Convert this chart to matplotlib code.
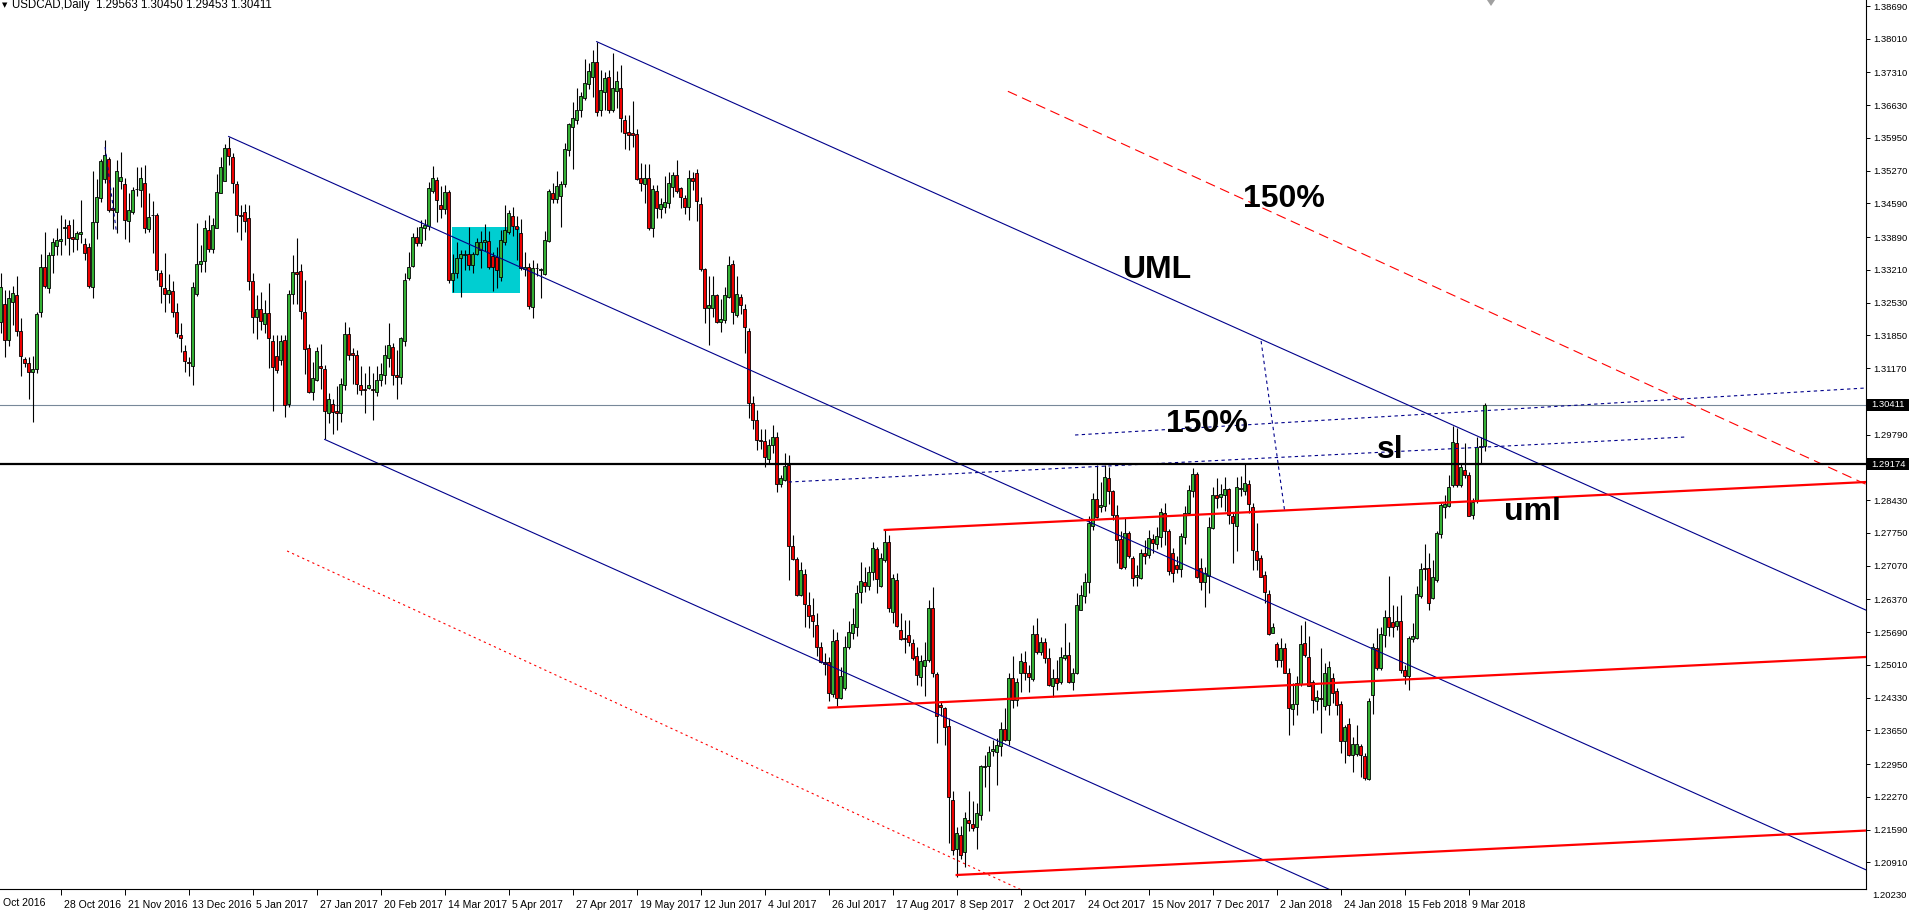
import numpy as np
import matplotlib.pyplot as plt
from matplotlib.patches import Rectangle, Polygon
import matplotlib.transforms as mtransforms

# USDCAD daily candles, Oct 2016 - Mar 2018
opens = [
    1.3212, 1.3250, 1.3176, 1.3254, 1.3268, 1.3194, 1.3135, 1.3127, 1.3108, 1.3115,
    1.3233, 1.3327, 1.3283, 1.3353, 1.3371, 1.3382, 1.3407, 1.3414, 1.3389, 1.3386,
    1.3396, 1.3374, 1.3369, 1.3286, 1.3421, 1.3470, 1.3510, 1.3551, 1.3450, 1.3442,
    1.3506, 1.3499, 1.3422, 1.3441, 1.3488, 1.3486, 1.3501, 1.3405, 1.3436, 1.3434,
    1.3314, 1.3283, 1.3270, 1.3277, 1.3233, 1.3185, 1.3152, 1.3129, 1.3122, 1.3272,
    1.3333, 1.3340, 1.3403, 1.3364, 1.3409, 1.3481, 1.3506, 1.3575, 1.3555, 1.3500,
    1.3435, 1.3441, 1.3428, 1.3297, 1.3224, 1.3239, 1.3208, 1.3231, 1.3173, 1.3143,
    1.3134, 1.3175, 1.3042, 1.3271, 1.3317, 1.3319, 1.3234, 1.3158, 1.3068, 1.3092,
    1.3121, 1.3115, 1.3023, 1.3042, 1.3028, 1.3024, 1.3082, 1.3188, 1.3148, 1.3144,
    1.3082, 1.3073, 1.3075, 1.3073, 1.3068, 1.3092, 1.3103, 1.3139, 1.3160, 1.3103,
    1.3098, 1.3173, 1.3304, 1.3330, 1.3390, 1.3377, 1.3408, 1.3413, 1.3485, 1.3507,
    1.3455, 1.3447, 1.3482, 1.3301, 1.3314, 1.3345, 1.3353, 1.3354, 1.3332, 1.3354,
    1.3362, 1.3378, 1.3381, 1.3349, 1.3347, 1.3307, 1.3380, 1.3400, 1.3433, 1.3413,
    1.3398, 1.3322, 1.3328, 1.3245, 1.3326, 1.3320, 1.3312, 1.3382, 1.3480, 1.3469,
    1.3475, 1.3499, 1.3570, 1.3617, 1.3633, 1.3654, 1.3679, 1.3708, 1.3722, 1.3752,
    1.3653, 1.3691, 1.3721, 1.3653, 1.3693, 1.3698, 1.3632, 1.3607, 1.3605, 1.3604,
    1.3511, 1.3500, 1.3511, 1.3407, 1.3484, 1.3447, 1.3451, 1.3459, 1.3493, 1.3518,
    1.3491, 1.3470, 1.3452, 1.3511, 1.3523, 1.3458, 1.3323, 1.3241, 1.3241, 1.3269,
    1.3212, 1.3218, 1.3264, 1.3334, 1.3227, 1.3265, 1.3239, 1.3194, 1.3044, 1.3010,
    1.2968, 1.2966, 1.2928, 1.2958, 1.2975, 1.2876, 1.2885, 1.2916, 1.2748, 1.2721,
    1.2646, 1.2689, 1.2626, 1.2605, 1.2584, 1.2538, 1.2506, 1.2506, 1.2441, 1.2553,
    1.2433, 1.2452, 1.2538, 1.2567, 1.2579, 1.2653, 1.2674, 1.2665, 1.2694, 1.2741,
    1.2665, 1.2719, 1.2755, 1.2610, 1.2677, 1.2573, 1.2556, 1.2563, 1.2546, 1.2520,
    1.2475, 1.2499, 1.2511, 1.2618, 1.2481, 1.2418, 1.2411, 1.2374, 1.2220, 1.2118,
    1.2147, 1.2113, 1.2179, 1.2171, 1.2165, 1.2190, 1.2288, 1.2290, 1.2323, 1.2321,
    1.2333, 1.2367, 1.2345, 1.2474, 1.2427, 1.2483, 1.2506, 1.2483, 1.2472, 1.2565,
    1.2528, 1.2548, 1.2515, 1.2456, 1.2473, 1.2466, 1.2515, 1.2522, 1.2466, 1.2483,
    1.2615, 1.2644, 1.2672, 1.2789, 1.2845, 1.2829, 1.2830, 1.2888, 1.2861, 1.2812,
    1.2762, 1.2705, 1.2774, 1.2722, 1.2683, 1.2681, 1.2733, 1.2729, 1.2762, 1.2751,
    1.2767, 1.2816, 1.2778, 1.2734, 1.2708, 1.2701, 1.2767, 1.2816, 1.2861, 1.2897,
    1.2702, 1.2674, 1.2686, 1.2785, 1.2854, 1.2849, 1.2854, 1.2867, 1.2810, 1.2789,
    1.2866, 1.2861, 1.2877, 1.2829, 1.2738, 1.2722, 1.2688, 1.2648, 1.2568, 1.2544,
    1.2511, 1.2535, 1.2485, 1.2409, 1.2420, 1.2462, 1.2546, 1.2518, 1.2465, 1.2425,
    1.2433, 1.2415, 1.2418, 1.2473, 1.2446, 1.2420, 1.2342, 1.2378, 1.2314, 1.2316,
    1.2333, 1.2311, 1.2264, 1.2439, 1.2535, 1.2494, 1.2563, 1.2600, 1.2589, 1.2582,
    1.2591, 1.2490, 1.2478, 1.2554, 1.2556, 1.2644, 1.2703, 1.2702, 1.2639, 1.2677,
    1.2773, 1.2829, 1.2831, 1.2875, 1.2962, 1.2875, 1.2906, 1.2895, 1.2812, 1.2842,
    1.2953, 1.29563,
]
highs = [
    1.3314, 1.3279, 1.3279, 1.3288, 1.3308, 1.3221, 1.3140, 1.3140, 1.3142, 1.3234,
    1.3355, 1.3400, 1.3359, 1.3387, 1.3407, 1.3434, 1.3427, 1.3425, 1.3427, 1.3402,
    1.3466, 1.3387, 1.3376, 1.3526, 1.3509, 1.3551, 1.3591, 1.3556, 1.3494, 1.3549,
    1.3566, 1.3511, 1.3481, 1.3494, 1.3535, 1.3534, 1.3539, 1.3481, 1.3465, 1.3440,
    1.3320, 1.3357, 1.3313, 1.3297, 1.3252, 1.3210, 1.3165, 1.3140, 1.3295, 1.3418,
    1.3373, 1.3425, 1.3434, 1.3428, 1.3521, 1.3556, 1.3582, 1.3598, 1.3563, 1.3506,
    1.3456, 1.3458, 1.3456, 1.3314, 1.3269, 1.3276, 1.3258, 1.3293, 1.3186, 1.3186,
    1.3186, 1.3186, 1.3279, 1.3353, 1.3388, 1.3334, 1.3300, 1.3168, 1.3130, 1.3160,
    1.3168, 1.3123, 1.3066, 1.3052, 1.3079, 1.3096, 1.3213, 1.3203, 1.3158, 1.3155,
    1.3121, 1.3106, 1.3121, 1.3106, 1.3121, 1.3127, 1.3165, 1.3211, 1.3170, 1.3155,
    1.3182, 1.3315, 1.3358, 1.3398, 1.3411, 1.3425, 1.3427, 1.3504, 1.3536, 1.3514,
    1.3496, 1.3498, 1.3487, 1.3355, 1.3378, 1.3362, 1.3363, 1.3410, 1.3359, 1.3387,
    1.3402, 1.3416, 1.3401, 1.3359, 1.3369, 1.3404, 1.3456, 1.3445, 1.3452, 1.3433,
    1.3426, 1.3359, 1.3335, 1.3341, 1.3335, 1.3326, 1.3402, 1.3490, 1.3501, 1.3526,
    1.3506, 1.3584, 1.3627, 1.3670, 1.3698, 1.3691, 1.3758, 1.3750, 1.3777, 1.3795,
    1.3736, 1.3731, 1.3736, 1.3771, 1.3733, 1.3747, 1.3643, 1.3643, 1.3672, 1.3613,
    1.3543, 1.3540, 1.3541, 1.3497, 1.3497, 1.3470, 1.3515, 1.3525, 1.3525, 1.3549,
    1.3494, 1.3477, 1.3528, 1.3525, 1.3530, 1.3472, 1.3324, 1.3308, 1.3308, 1.3271,
    1.3260, 1.3286, 1.3349, 1.3341, 1.3308, 1.3271, 1.3250, 1.3200, 1.3060, 1.3030,
    1.2990, 1.2990, 1.2970, 1.3000, 1.2985, 1.2895, 1.2941, 1.2937, 1.2771, 1.2724,
    1.2715, 1.2700, 1.2653, 1.2639, 1.2608, 1.2549, 1.2525, 1.2518, 1.2575, 1.2570,
    1.2497, 1.2560, 1.2591, 1.2618, 1.2667, 1.2715, 1.2705, 1.2706, 1.2757, 1.2746,
    1.2733, 1.2781, 1.2771, 1.2690, 1.2691, 1.2608, 1.2594, 1.2594, 1.2554, 1.2539,
    1.2521, 1.2549, 1.2636, 1.2662, 1.2487, 1.2425, 1.2414, 1.2390, 1.2240, 1.2164,
    1.2167, 1.2196, 1.2240, 1.2219, 1.2215, 1.2293, 1.2314, 1.2333, 1.2345, 1.2349,
    1.2383, 1.2411, 1.2483, 1.2520, 1.2473, 1.2525, 1.2529, 1.2501, 1.2584, 1.2598,
    1.2559, 1.2556, 1.2535, 1.2492, 1.2510, 1.2539, 1.2587, 1.2549, 1.2494, 1.2650,
    1.2667, 1.2692, 1.2809, 1.2857, 1.2916, 1.2881, 1.2916, 1.2911, 1.2864, 1.2833,
    1.2778, 1.2805, 1.2778, 1.2726, 1.2708, 1.2741, 1.2760, 1.2781, 1.2773, 1.2788,
    1.2826, 1.2836, 1.2783, 1.2743, 1.2726, 1.2774, 1.2830, 1.2874, 1.2910, 1.2902,
    1.2722, 1.2705, 1.2807, 1.2870, 1.2888, 1.2877, 1.2892, 1.2868, 1.2819, 1.2892,
    1.2893, 1.2918, 1.2885, 1.2836, 1.2795, 1.2729, 1.2695, 1.2657, 1.2587, 1.2549,
    1.2556, 1.2546, 1.2494, 1.2463, 1.2478, 1.2584, 1.2591, 1.2560, 1.2470, 1.2449,
    1.2536, 1.2504, 1.2508, 1.2484, 1.2453, 1.2425, 1.2376, 1.2390, 1.2352, 1.2376,
    1.2337, 1.2318, 1.2432, 1.2546, 1.2577, 1.2579, 1.2614, 1.2686, 1.2625, 1.2623,
    1.2646, 1.2501, 1.2560, 1.2587, 1.2664, 1.2712, 1.2752, 1.2733, 1.2718, 1.2778,
    1.2836, 1.2854, 1.2895, 1.2997, 1.2992, 1.2921, 1.2962, 1.2902, 1.2847, 1.2975,
    1.2975, 1.30450,
]
lows = [
    1.3189, 1.3140, 1.3162, 1.3207, 1.3183, 1.3100, 1.3119, 1.3054, 1.3005, 1.3106,
    1.3224, 1.3283, 1.3274, 1.3314, 1.3352, 1.3352, 1.3373, 1.3352, 1.3359, 1.3362,
    1.3376, 1.3342, 1.3284, 1.3263, 1.3385, 1.3463, 1.3502, 1.3442, 1.3405, 1.3398,
    1.3490, 1.3386, 1.3378, 1.3438, 1.3475, 1.3452, 1.3397, 1.3400, 1.3357, 1.3300,
    1.3253, 1.3234, 1.3252, 1.3224, 1.3181, 1.3151, 1.3108, 1.3101, 1.3081, 1.3266,
    1.3317, 1.3317, 1.3359, 1.3357, 1.3407, 1.3480, 1.3506, 1.3539, 1.3481, 1.3400,
    1.3383, 1.3400, 1.3279, 1.3191, 1.3177, 1.3196, 1.3189, 1.3118, 1.3029, 1.3106,
    1.3124, 1.3016, 1.3037, 1.3251, 1.3251, 1.3219, 1.3105, 1.3065, 1.3051, 1.3091,
    1.3073, 1.2969, 1.3004, 1.2980, 1.2989, 1.3006, 1.3072, 1.3134, 1.3085, 1.3063,
    1.3061, 1.3024, 1.3073, 1.3009, 1.3059, 1.3079, 1.3085, 1.3119, 1.3082, 1.3052,
    1.3085, 1.3163, 1.3301, 1.3327, 1.3370, 1.3370, 1.3383, 1.3404, 1.3480, 1.3421,
    1.3428, 1.3437, 1.3294, 1.3276, 1.3304, 1.3264, 1.3321, 1.3321, 1.3315, 1.3352,
    1.3324, 1.3361, 1.3322, 1.3278, 1.3283, 1.3297, 1.3373, 1.3396, 1.3391, 1.3342,
    1.3321, 1.3308, 1.3239, 1.3222, 1.3308, 1.3262, 1.3310, 1.3380, 1.3459, 1.3459,
    1.3411, 1.3494, 1.3557, 1.3530, 1.3625, 1.3638, 1.3674, 1.3697, 1.3681, 1.3640,
    1.3641, 1.3653, 1.3646, 1.3649, 1.3657, 1.3608, 1.3573, 1.3570, 1.3577, 1.3508,
    1.3485, 1.3459, 1.3404, 1.3389, 1.3428, 1.3428, 1.3440, 1.3449, 1.3472, 1.3480,
    1.3449, 1.3437, 1.3425, 1.3487, 1.3423, 1.3319, 1.3210, 1.3165, 1.3224, 1.3210,
    1.3193, 1.3210, 1.3262, 1.3209, 1.3224, 1.3230, 1.3148, 1.3013, 1.2990, 1.2947,
    1.2950, 1.2911, 1.2920, 1.2940, 1.2859, 1.2871, 1.2883, 1.2677, 1.2719, 1.2643,
    1.2643, 1.2579, 1.2577, 1.2558, 1.2520, 1.2504, 1.2480, 1.2425, 1.2434, 1.2416,
    1.2430, 1.2449, 1.2533, 1.2554, 1.2560, 1.2629, 1.2653, 1.2657, 1.2677, 1.2650,
    1.2663, 1.2715, 1.2610, 1.2587, 1.2580, 1.2553, 1.2525, 1.2540, 1.2511, 1.2459,
    1.2456, 1.2436, 1.2506, 1.2475, 1.2338, 1.2394, 1.2335, 1.2132, 1.2106, 1.2061,
    1.2097, 1.2082, 1.2155, 1.2155, 1.2118, 1.2179, 1.2248, 1.2198, 1.2311, 1.2252,
    1.2311, 1.2342, 1.2335, 1.2411, 1.2416, 1.2445, 1.2470, 1.2445, 1.2468, 1.2524,
    1.2522, 1.2504, 1.2456, 1.2434, 1.2449, 1.2461, 1.2511, 1.2463, 1.2449, 1.2482,
    1.2614, 1.2630, 1.2650, 1.2780, 1.2805, 1.2819, 1.2821, 1.2835, 1.2802, 1.2713,
    1.2701, 1.2699, 1.2722, 1.2665, 1.2664, 1.2679, 1.2711, 1.2722, 1.2733, 1.2741,
    1.2746, 1.2750, 1.2688, 1.2672, 1.2692, 1.2683, 1.2752, 1.2812, 1.2850, 1.2681,
    1.2657, 1.2622, 1.2651, 1.2782, 1.2826, 1.2829, 1.2821, 1.2794, 1.2712, 1.2738,
    1.2852, 1.2854, 1.2816, 1.2698, 1.2698, 1.2684, 1.2629, 1.2563, 1.2567, 1.2497,
    1.2497, 1.2484, 1.2356, 1.2376, 1.2397, 1.2458, 1.2518, 1.2456, 1.2401, 1.2408,
    1.2359, 1.2408, 1.2397, 1.2421, 1.2397, 1.2318, 1.2297, 1.2312, 1.2279, 1.2311,
    1.2269, 1.2262, 1.2262, 1.2399, 1.2490, 1.2490, 1.2539, 1.2560, 1.2559, 1.2574,
    1.2484, 1.2461, 1.2449, 1.2549, 1.2554, 1.2639, 1.2678, 1.2614, 1.2637, 1.2674,
    1.2764, 1.2806, 1.2828, 1.2871, 1.2871, 1.2870, 1.2888, 1.2809, 1.2803, 1.2837,
    1.2921, 1.29453,
]
closes = [
    1.3285, 1.3176, 1.3262, 1.3274, 1.3194, 1.3143, 1.3127, 1.3108, 1.3115, 1.3229,
    1.3327, 1.3288, 1.3351, 1.3378, 1.3384, 1.3386, 1.3411, 1.3387, 1.3386, 1.3397,
    1.3399, 1.3357, 1.3288, 1.3420, 1.3472, 1.3547, 1.3559, 1.3445, 1.3446, 1.3526,
    1.3513, 1.3424, 1.3445, 1.3486, 1.3488, 1.3511, 1.3409, 1.3430, 1.3434, 1.3320,
    1.3288, 1.3271, 1.3279, 1.3234, 1.3189, 1.3179, 1.3131, 1.3127, 1.3285, 1.3333,
    1.3339, 1.3409, 1.3364, 1.3414, 1.3483, 1.3534, 1.3575, 1.3558, 1.3502, 1.3434,
    1.3433, 1.3423, 1.3299, 1.3224, 1.3239, 1.3214, 1.3231, 1.3179, 1.3119, 1.3114,
    1.3173, 1.3040, 1.3271, 1.3317, 1.3312, 1.3236, 1.3156, 1.3068, 1.3096, 1.3152,
    1.3117, 1.3029, 1.3052, 1.3027, 1.3023, 1.3085, 1.3188, 1.3144, 1.3144, 1.3085,
    1.3072, 1.3071, 1.3082, 1.3071, 1.3092, 1.3105, 1.3144, 1.3165, 1.3103, 1.3098,
    1.3179, 1.3301, 1.3327, 1.3390, 1.3376, 1.3410, 1.3414, 1.3492, 1.3511, 1.3467,
    1.3447, 1.3482, 1.3301, 1.3314, 1.3345, 1.3355, 1.3355, 1.3332, 1.3354, 1.3378,
    1.3378, 1.3383, 1.3328, 1.3328, 1.3321, 1.3384, 1.3404, 1.3440, 1.3412, 1.3406,
    1.3326, 1.3327, 1.3246, 1.3326, 1.3325, 1.3323, 1.3383, 1.3484, 1.3469, 1.3495,
    1.3499, 1.3573, 1.3623, 1.3636, 1.3654, 1.3682, 1.3710, 1.3735, 1.3752, 1.3649,
    1.3694, 1.3719, 1.3653, 1.3698, 1.3713, 1.3636, 1.3606, 1.3602, 1.3602, 1.3509,
    1.3501, 1.3511, 1.3407, 1.3488, 1.3449, 1.3458, 1.3462, 1.3501, 1.3518, 1.3484,
    1.3472, 1.3452, 1.3511, 1.3506, 1.3464, 1.3322, 1.3241, 1.3248, 1.3269, 1.3212,
    1.3219, 1.3269, 1.3332, 1.3234, 1.3271, 1.3248, 1.3202, 1.3044, 1.3010, 1.2968,
    1.2966, 1.2933, 1.2958, 1.2975, 1.2876, 1.2888, 1.2914, 1.2748, 1.2721, 1.2646,
    1.2698, 1.2627, 1.2603, 1.2591, 1.2539, 1.2506, 1.2503, 1.2443, 1.2551, 1.2433,
    1.2478, 1.2539, 1.2569, 1.2586, 1.2650, 1.2676, 1.2665, 1.2694, 1.2743, 1.2679,
    1.2722, 1.2755, 1.2618, 1.2681, 1.2582, 1.2555, 1.2554, 1.2548, 1.2515, 1.2479,
    1.2508, 1.2511, 1.2618, 1.2483, 1.2395, 1.2413, 1.2371, 1.2226, 1.2117, 1.2151,
    1.2106, 1.2182, 1.2172, 1.2162, 1.2193, 1.2290, 1.2290, 1.2321, 1.2326, 1.2335,
    1.2367, 1.2345, 1.2474, 1.2427, 1.2466, 1.2508, 1.2483, 1.2475, 1.2566, 1.2528,
    1.2548, 1.2515, 1.2459, 1.2473, 1.2464, 1.2518, 1.2522, 1.2466, 1.2485, 1.2625,
    1.2646, 1.2674, 1.2795, 1.2845, 1.2807, 1.2832, 1.2890, 1.2861, 1.2812, 1.2760,
    1.2703, 1.2774, 1.2726, 1.2681, 1.2687, 1.2733, 1.2727, 1.2764, 1.2753, 1.2769,
    1.2819, 1.2778, 1.2695, 1.2692, 1.2701, 1.2769, 1.2816, 1.2864, 1.2897, 1.2683,
    1.2674, 1.2691, 1.2787, 1.2854, 1.2847, 1.2856, 1.2867, 1.2812, 1.2795, 1.2870,
    1.2869, 1.2878, 1.2835, 1.2740, 1.2719, 1.2684, 1.2653, 1.2565, 1.2579, 1.2511,
    1.2535, 1.2485, 1.2411, 1.2420, 1.2463, 1.2544, 1.2522, 1.2458, 1.2428, 1.2435,
    1.2430, 1.2485, 1.2497, 1.2442, 1.2418, 1.2342, 1.2371, 1.2314, 1.2337, 1.2337,
    1.2314, 1.2266, 1.2425, 1.2539, 1.2494, 1.2565, 1.2601, 1.2579, 1.2579, 1.2593,
    1.2490, 1.2478, 1.2556, 1.2561, 1.2648, 1.2701, 1.2700, 1.2629, 1.2683, 1.2774,
    1.2833, 1.2834, 1.2871, 1.2964, 1.2875, 1.2911, 1.2895, 1.2810, 1.2840, 1.2953,
    1.2956, 1.30411,
]

date_labels = ["28 Oct 2016", "21 Nov 2016", "13 Dec 2016", "5 Jan 2017", "27 Jan 2017",
               "20 Feb 2017", "14 Mar 2017", "5 Apr 2017", "27 Apr 2017", "19 May 2017",
               "12 Jun 2017", "4 Jul 2017", "26 Jul 2017", "17 Aug 2017", "8 Sep 2017",
               "2 Oct 2017", "24 Oct 2017", "15 Nov 2017", "7 Dec 2017", "2 Jan 2018",
               "24 Jan 2018", "15 Feb 2018", "9 Mar 2018"]
date_bars = [15 + 16 * n for n in range(len(date_labels))]

price_ticks = [1.38690, 1.38010, 1.37310, 1.36630, 1.35950, 1.35270, 1.34590, 1.33890,
               1.33210, 1.32530, 1.31850, 1.31170, 1.29790, 1.28430,
               1.27750, 1.27070, 1.26370, 1.25690, 1.25010, 1.24330, 1.23650, 1.22950,
               1.22270, 1.21590, 1.20910]

last_price = 1.30411
level_price = 1.29174

# pitchfork / channel lines: (start bar, start price, slope per bar)
blue_lines = [(149, 1.3795, -0.000372), (57, 1.3598, -0.000372), (81, 1.2969, -0.000372)]
red_lines = [(207, 1.2412, 0.0000406), (221, 1.2781, 0.0000406), (239, 1.20646, 0.0000406)]
red_dashed = (251.8, 1.36919, -0.0003804)
red_dotted = (71.6, 1.27374, -0.0003834)
blue_dotted = [((268.6, 1.29782), (466.3, 1.30758)),
               ((197.0, 1.28806), (421.3, 1.29741)),
               ((315.1, 1.31734), (320.96, 1.28225)),
               ((26.1, 1.3576), (28.9, 1.3402))]
box = (112.9, 129.8, 1.32737, 1.34108)

W, H = 1909, 923
GREEN = '#34b034'
RED = '#ee0000'
NAVY = '#00008b'
DATE_FONT = 7.6
PRICE_FONT = 6.8

fig = plt.figure(figsize=(W / 100, H / 100), dpi=100)
ax = fig.add_axes([0, 34 / H, 1866 / W, 889 / H])
x_right = 466.33
ax.set_xlim(-0.17, x_right)
ax.set_ylim(1.203551, 1.388146)

o = np.array(opens); hi = np.array(highs); lo = np.array(lows); c = np.array(closes)
x = np.arange(len(c))
up = c >= o
bottom = np.minimum(o, c)
height = np.maximum(np.abs(c - o), 0.00002)

# cyan box
ax.add_patch(Rectangle((box[0], box[2]), box[1] - box[0], box[3] - box[2],
                       facecolor='#00ced1', edgecolor='none', zorder=1))
ax.axhline(last_price, color='#778899', lw=0.8, zorder=1.5)

ax.vlines(x, lo, hi, color='black', lw=0.8, zorder=3)
ax.bar(x[up], height[up], bottom=bottom[up], width=0.6, color=GREEN,
       edgecolor='black', linewidth=0.6, zorder=4)
ax.bar(x[~up], height[~up], bottom=bottom[~up], width=0.6, color=RED,
       edgecolor='black', linewidth=0.6, zorder=4)

for k0, p0, s in blue_lines:
    ax.plot([k0, x_right], [p0, p0 + s * (x_right - k0)], color=NAVY, lw=0.8, zorder=5)
for k0, p0, s in red_lines:
    ax.plot([k0, x_right], [p0, p0 + s * (x_right - k0)], color='red', lw=1.6, zorder=5)
k0, p0, s = red_dashed
ax.plot([k0, x_right], [p0, p0 + s * (x_right - k0)], color='red', lw=0.8,
        ls=(0, (9, 5)), zorder=5)
k0, p0, s = red_dotted
ax.plot([k0, x_right], [p0, p0 + s * (x_right - k0)], color='red', lw=0.8,
        ls=(0, (2, 3)), zorder=5)
for (ka, pa), (kb, pb) in blue_dotted:
    ax.plot([ka, kb], [pa, pb], color=NAVY, lw=0.8, ls=(0, (3, 3)), zorder=5)

ax.axhline(level_price, color='black', lw=1.6, zorder=6)

# axes look like the MT4 window
for side in ['left', 'top']:
    ax.spines[side].set_visible(False)
for side in ['right', 'bottom']:
    ax.spines[side].set_linewidth(0.8)
ax.yaxis.tick_right()
ax.set_yticks(price_ticks)
ax.set_yticklabels(['%.5f' % p for p in price_ticks])
ax.tick_params(axis='y', direction='out', length=3, width=0.7, pad=2,
               labelsize=PRICE_FONT, labelfontfamily='Liberation Sans')
ax.set_xticks(date_bars)
ax.set_xticklabels(date_labels, ha='left')
ax.tick_params(axis='x', direction='out', length=4, width=0.7, pad=4,
               labelsize=DATE_FONT, labelfontfamily='Liberation Sans')
shift = mtransforms.ScaledTranslation(3 / 100, 0, fig.dpi_scale_trans)
for lbl in ax.get_xticklabels():
    lbl.set_transform(lbl.get_transform() + shift)
ax.grid(False)


def px(xp, yp):
    return xp / W, 1 - yp / H


fig.text(*px(3, 898), 'Oct 2016', fontsize=DATE_FONT, family='Liberation Sans', va='top')
fig.text(*px(1872, 895), '1.20230', fontsize=PRICE_FONT, family='Liberation Sans',
         va='center')

# price tags on the scale
for p in [last_price, level_price]:
    yp = 6 + (1.3869 - p) * 4816
    fig.add_artist(Rectangle(px(1867, yp + 6), 42 / W, 12 / H, transform=fig.transFigure,
                             facecolor='black', edgecolor='none', zorder=10))
    fig.text(*px(1871, yp), '%.5f' % p, color='white', fontsize=PRICE_FONT,
             family='Liberation Sans', va='center', zorder=11)

fig.text(*px(2, 5), '\u25bc', fontsize=5, family='DejaVu Sans', va='center')
fig.text(*px(12, 5), 'USDCAD,Daily  1.29563 1.30450 1.29453 1.30411', fontsize=8.3,
         family='Liberation Sans', va='center')
fig.add_artist(Polygon([px(1487, 0), px(1495, 0), px(1491, 6)], closed=True,
                       transform=fig.transFigure, facecolor='#a0a0a0', edgecolor='none'))

labels = [('150%', 1284, 199), ('UML', 1157, 270), ('150%', 1207, 424),
          ('sl', 1390, 450), ('uml', 1532, 512)]
for txt, xp, yp in labels:
    fig.text(*px(xp, yp), txt, fontsize=23, fontweight='bold', family='Liberation Sans',
             ha='center', va='center', zorder=12)

fig.savefig('out.png', dpi=100)
